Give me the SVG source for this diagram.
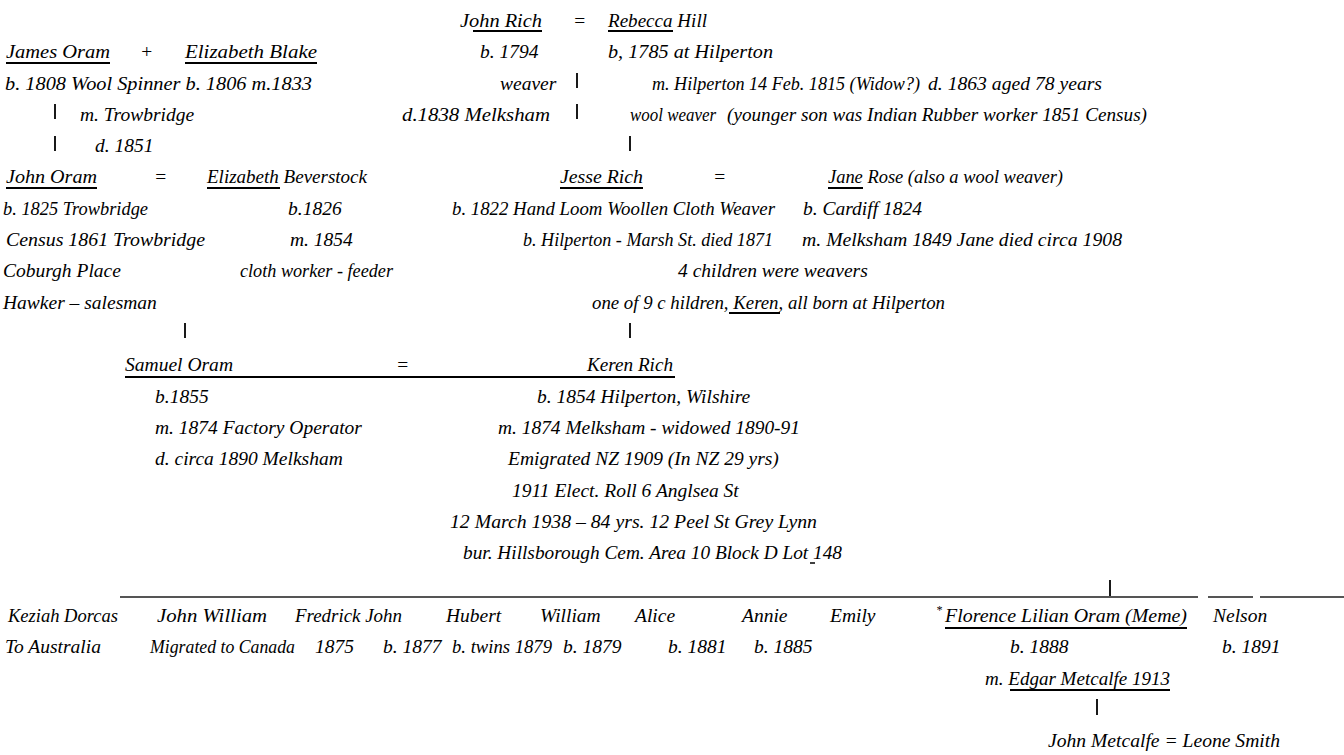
<svg xmlns="http://www.w3.org/2000/svg" width="1344" height="755" viewBox="0 0 1344 755">
<style>
text{font-family:"Liberation Serif","DejaVu Serif",serif;font-style:italic;font-size:19.5px;fill:#000}
.u{stroke:#000;stroke-width:2}
.bar{stroke:#000;stroke-width:1.8}
.hl{stroke:#555;stroke-width:2}
.sm{font-size:12px}
</style>
<rect width="1344" height="755" fill="#fff"/>
<g id="connectors">
<line class="bar" x1="577" y1="73" x2="577" y2="88"/>
<line class="bar" x1="577" y1="104" x2="577" y2="119"/>
<line class="bar" x1="630" y1="136" x2="630" y2="151"/>
<line class="bar" x1="55" y1="104" x2="55" y2="119"/>
<line class="bar" x1="55" y1="136" x2="55" y2="151"/>
<line class="bar" x1="185" y1="323" x2="185" y2="338"/>
<line class="bar" x1="630" y1="323" x2="630" y2="338"/>
<line class="u" x1="125" y1="377" x2="675" y2="377"/>
<line class="hl" x1="120" y1="597" x2="1198" y2="597"/>
<line class="hl" x1="1208" y1="597" x2="1253" y2="597"/>
<line class="hl" x1="1260" y1="597" x2="1344" y2="597"/>
<line class="bar" x1="1110" y1="580" x2="1110" y2="596"/>
<line class="bar" x1="1097" y1="699" x2="1097" y2="715"/>
</g>
<g id="john-rich">
<text x="460" y="27" textLength="82" lengthAdjust="spacingAndGlyphs">John Rich</text>
<line class="u" x1="473" y1="31" x2="542" y2="31"/>
<text x="480" y="58">b. 1794</text>
<text x="500" y="90">weaver</text>
<text x="402" y="121" textLength="148" lengthAdjust="spacingAndGlyphs">d.1838  Melksham</text>
</g>
<text x="573" y="27">=</text>
<g id="rebecca-hill">
<text x="608" y="27" textLength="99" lengthAdjust="spacingAndGlyphs">Rebecca Hill</text>
<line class="u" x1="608" y1="31" x2="673" y2="31"/>
<text x="608" y="58" textLength="165" lengthAdjust="spacingAndGlyphs">b, 1785  at Hilperton</text>
<text x="652" y="90" textLength="268" lengthAdjust="spacingAndGlyphs">m. Hilperton 14 Feb. 1815 (Widow?)</text>
<text x="928" y="90" textLength="174" lengthAdjust="spacingAndGlyphs">d. 1863 aged  78 years</text>
<text x="630" y="121" textLength="86" lengthAdjust="spacingAndGlyphs">wool weaver</text>
<text x="727" y="121" textLength="420" lengthAdjust="spacingAndGlyphs">(younger son was Indian Rubber worker 1851 Census)</text>
</g>
<g id="james-oram">
<text x="6" y="58" textLength="104" lengthAdjust="spacingAndGlyphs">James Oram</text>
<line class="u" x1="6" y1="63" x2="110" y2="63"/>
<text x="5" y="90" textLength="307" lengthAdjust="spacingAndGlyphs">b. 1808 Wool Spinner b. 1806  m.1833</text>
<text x="80" y="121">m. Trowbridge</text>
<text x="95" y="152">d. 1851</text>
</g>
<text x="140" y="58">+</text>
<g id="elizabeth-blake">
<text x="185" y="58" textLength="132" lengthAdjust="spacingAndGlyphs">Elizabeth  Blake</text>
<line class="u" x1="185" y1="63" x2="317" y2="63"/>
</g>
<g id="john-oram">
<text x="6" y="183" textLength="91" lengthAdjust="spacingAndGlyphs">John Oram</text>
<line class="u" x1="6" y1="188" x2="97" y2="188"/>
<text x="3" y="215" textLength="145" lengthAdjust="spacingAndGlyphs">b. 1825 Trowbridge</text>
<text x="6" y="246" textLength="199" lengthAdjust="spacingAndGlyphs">Census 1861 Trowbridge</text>
<text x="3" y="277">Coburgh Place</text>
<text x="3" y="309">Hawker – salesman</text>
</g>
<text x="154" y="183">=</text>
<g id="elizabeth-beverstock">
<text x="207" y="183" textLength="160" lengthAdjust="spacingAndGlyphs">Elizabeth Beverstock</text>
<line class="u" x1="207" y1="188" x2="280" y2="188"/>
<text x="288" y="215">b.1826</text>
<text x="290" y="246">m. 1854</text>
<text x="240" y="277" textLength="153" lengthAdjust="spacingAndGlyphs">cloth worker  - feeder</text>
</g>
<g id="jesse-rich">
<text x="560" y="183" textLength="83" lengthAdjust="spacingAndGlyphs">Jesse Rich</text>
<line class="u" x1="560" y1="188" x2="643" y2="188"/>
<text x="452" y="215" textLength="323" lengthAdjust="spacingAndGlyphs">b. 1822  Hand Loom Woollen  Cloth Weaver</text>
<text x="523" y="246" textLength="250" lengthAdjust="spacingAndGlyphs">b. Hilperton - Marsh St. died 1871</text>
<text x="678" y="277">4 children were weavers</text>
<text x="592" y="309" textLength="353" lengthAdjust="spacingAndGlyphs">one of 9 c hildren, Keren,  all born at Hilperton</text>
<line class="u" x1="729" y1="313" x2="780" y2="313"/>
</g>
<text x="713" y="183">=</text>
<g id="jane-rose">
<text x="828" y="183" textLength="235" lengthAdjust="spacingAndGlyphs">Jane  Rose (also a wool weaver)</text>
<line class="u" x1="828" y1="188" x2="863" y2="188"/>
<text x="803" y="215">b. Cardiff 1824</text>
<text x="802" y="246" textLength="320" lengthAdjust="spacingAndGlyphs">m. Melksham 1849 Jane died circa 1908</text>
</g>
<g id="samuel-oram">
<text x="125" y="371" textLength="108" lengthAdjust="spacingAndGlyphs">Samuel Oram</text>
<text x="155" y="403">b.1855</text>
<text x="155" y="434">m. 1874   Factory Operator</text>
<text x="155" y="465">d. circa 1890 Melksham</text>
</g>
<text x="396" y="371">=</text>
<g id="keren-rich">
<text x="587" y="371" textLength="86" lengthAdjust="spacingAndGlyphs">Keren Rich</text>
<text x="537" y="403">b. 1854 Hilperton, Wilshire</text>
<text x="498" y="434" textLength="302" lengthAdjust="spacingAndGlyphs">m. 1874  Melksham  - widowed 1890-91</text>
<text x="508" y="465">Emigrated NZ 1909 (In NZ 29 yrs)</text>
<text x="512" y="497">1911 Elect. Roll  6 Anglsea St</text>
<text x="450" y="528" textLength="367" lengthAdjust="spacingAndGlyphs">12 March 1938 – 84 yrs.  12 Peel St Grey Lynn</text>
<text x="463" y="559" textLength="379" lengthAdjust="spacingAndGlyphs">bur. Hillsborough Cem. Area 10 Block D Lot 148</text>
<line x1="810" y1="563" x2="815" y2="563" stroke="#000" stroke-width="1.5"/>
</g>
<g id="keziah">
<text x="8" y="622" textLength="110" lengthAdjust="spacingAndGlyphs">Keziah Dorcas</text>
<text x="5" y="653">To Australia</text>
</g>
<g id="john-william">
<text x="157" y="622" textLength="110" lengthAdjust="spacingAndGlyphs">John William</text>
<text x="150" y="653" textLength="145" lengthAdjust="spacingAndGlyphs">Migrated to Canada</text>
</g>
<g id="fredrick-john">
<text x="295" y="622" textLength="107" lengthAdjust="spacingAndGlyphs">Fredrick John</text>
<text x="315" y="653">1875</text>
</g>
<g id="hubert">
<text x="446" y="622">Hubert</text>
<text x="383" y="653">b. 1877</text>
</g>
<g id="william">
<text x="540" y="622">William</text>
<text x="452" y="653" textLength="100" lengthAdjust="spacingAndGlyphs">b. twins 1879</text>
</g>
<g id="alice">
<text x="635" y="622">Alice</text>
<text x="563" y="653">b. 1879</text>
</g>
<g id="annie">
<text x="742" y="622">Annie</text>
<text x="668" y="653">b. 1881</text>
</g>
<g id="emily">
<text x="830" y="622">Emily</text>
<text x="754" y="653">b. 1885</text>
</g>
<g id="florence">
<text class="sm" x="936" y="614">*</text>
<text x="945" y="622" textLength="242" lengthAdjust="spacingAndGlyphs">Florence Lilian Oram (Meme)</text>
<line class="u" x1="945" y1="628" x2="1187" y2="628"/>
<text x="1010" y="653">b. 1888</text>
<text x="985" y="685" textLength="185" lengthAdjust="spacingAndGlyphs">m. Edgar Metcalfe 1913</text>
<line class="u" x1="1010" y1="690" x2="1170" y2="690"/>
</g>
<g id="nelson">
<text x="1213" y="622">Nelson</text>
<text x="1222" y="653">b. 1891</text>
</g>
<g id="john-metcalfe">
<text x="1048" y="747" textLength="232" lengthAdjust="spacingAndGlyphs">John  Metcalfe = Leone Smith</text>
</g>
</svg>
